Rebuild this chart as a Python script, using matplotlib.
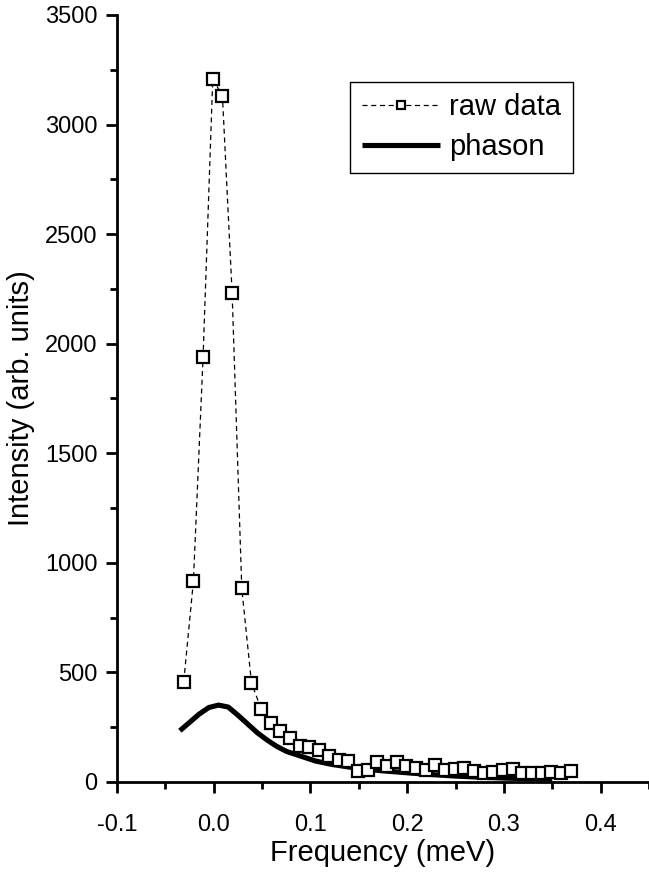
import matplotlib
matplotlib.use("Agg")
import matplotlib.pyplot as plt
from matplotlib.ticker import MultipleLocator, FormatStrFormatter

plt.rcParams['font.family'] = ['Liberation Sans', 'DejaVu Sans']
plt.rcParams['axes.unicode_minus'] = False

# raw data
freq_raw = [-0.031, -0.021, -0.011, -0.001, 0.009, 0.019, 0.029, 0.039, 0.049, 0.059,
            0.069, 0.079, 0.089, 0.099, 0.109, 0.119, 0.129, 0.139, 0.149, 0.159,
            0.169, 0.179, 0.189, 0.199, 0.209, 0.219, 0.229, 0.239, 0.249, 0.259,
            0.269, 0.279, 0.289, 0.299, 0.309, 0.319, 0.329, 0.339, 0.349, 0.359,
            0.369]
intensity_raw = [458, 917, 1941, 3209, 3131, 2233, 884, 453, 333, 268,
                 232, 199, 163, 161, 146, 119, 100, 96, 52, 55,
                 93, 73, 93, 73, 62, 55, 78, 57, 58, 62,
                 50, 42, 47, 55, 58, 42, 42, 40, 47, 42,
                 52]

# phason curve
freq_phason = [-0.035, -0.025, -0.015, -0.005, 0.005, 0.015, 0.025, 0.035, 0.045, 0.055,
               0.065, 0.075, 0.09, 0.105, 0.12, 0.14, 0.16, 0.18, 0.2, 0.225,
               0.25, 0.275, 0.3, 0.325, 0.35]
intensity_phason = [234, 272, 310, 340, 351, 342, 305, 265, 225, 192,
                    163, 140, 118, 96, 82, 68, 57, 49, 42, 34,
                    27, 22, 18, 15, 13]

fig = plt.figure(figsize=(6.49, 8.73), dpi=100)
ax = fig.add_axes([117/649, 91/873, 532/649, 767/873])

ax.plot(freq_raw, intensity_raw, color='black', lw=0.9, ls=(0, (4, 3)),
        marker='s', ms=8.5, mfc='white', mec='black', mew=1.6,
        label='raw data', zorder=3)
ax.plot(freq_phason, intensity_phason, color='black', lw=3.7,
        solid_capstyle='butt', label='phason', zorder=2)

ax.set_xlim(-0.1, 0.45)
ax.set_ylim(0, 3500)

for s in ['top', 'right']:
    ax.spines[s].set_visible(False)
for s in ['left', 'bottom']:
    ax.spines[s].set_linewidth(2)

ax.xaxis.set_major_locator(MultipleLocator(0.1))
ax.xaxis.set_minor_locator(MultipleLocator(0.05))
ax.xaxis.set_major_formatter(FormatStrFormatter('%.1f'))
ax.yaxis.set_major_locator(MultipleLocator(500))
ax.yaxis.set_minor_locator(MultipleLocator(250))

ax.tick_params(which='major', direction='out', length=8, width=2, labelsize=17, pad=15)
ax.tick_params(which='minor', direction='out', length=5, width=2)
ax.tick_params(axis='y', which='major', pad=6)

ax.set_xlabel('Frequency (meV)', fontsize=21, labelpad=2)
ax.set_ylabel('Intensity (arb. units)', fontsize=21, labelpad=7)

leg = ax.legend(loc='upper left', bbox_to_anchor=(0.438, 0.913), fontsize=21,
                frameon=True, fancybox=False, edgecolor='black', framealpha=1,
                handlelength=2.7, handletextpad=0.3, borderpad=0.4,
                labelspacing=0.4, borderaxespad=0, markerscale=0.65)
leg.get_frame().set_linewidth(1.0)

fig.savefig('out.png', dpi=100)
